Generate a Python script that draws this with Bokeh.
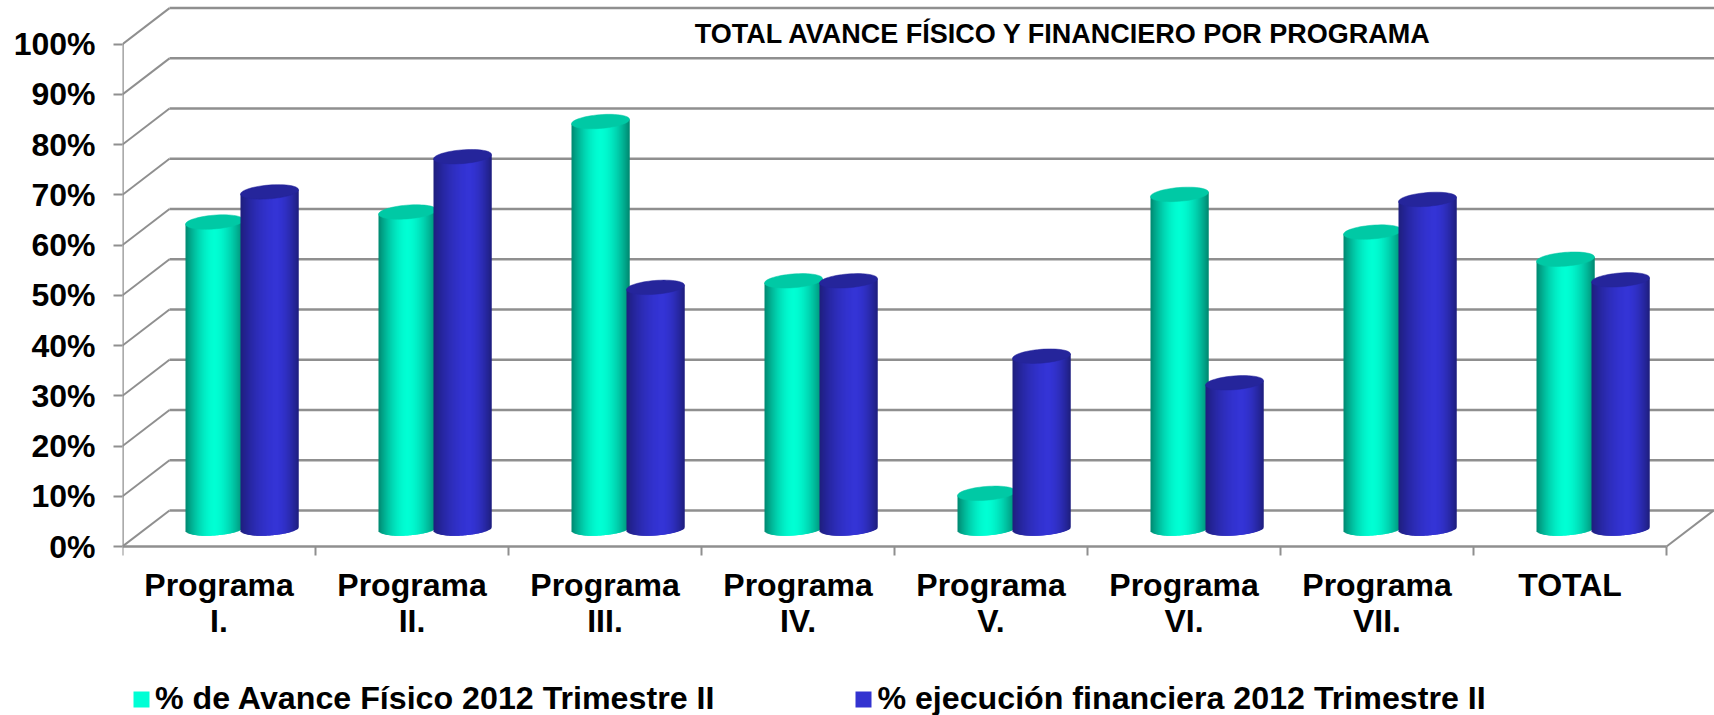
import numpy as np
from bokeh.embed import file_html
from bokeh.resources import INLINE
from bokeh.plotting import figure
from bokeh.models import (FixedTicker, Label, Legend, LegendItem, PrintfTickFormatter)

title_text = "TOTAL AVANCE FÍSICO Y FINANCIERO POR PROGRAMA"
categories = ["Programa\nI.", "Programa\nII.", "Programa\nIII.", "Programa\nIV.",
              "Programa\nV.", "Programa\nVI.", "Programa\nVII.", "TOTAL"]
fisico = [61, 63, 81, 49.3, 7, 66.5, 59, 53.6]
financiera = [67, 74, 48, 49.3, 34.3, 29, 65.5, 49.5]
series_names = ["% de Avance Físico 2012 Trimestre II", "% ejecución financiera 2012 Trimestre II"]
y_ticks = list(range(0, 101, 10))

W, H = 1714, 715
PX_X, PX_Y = 193.0, 5.024          # pixels per category / per percent point
LEFT, ZERO_Y = 122, 546
x_end = (W - LEFT) / PX_X
y_start, y_end = -(H - ZERO_Y) / PX_Y, ZERO_Y / PX_Y
FONT = "Liberation Sans"
GRID = "#8f8f8f"

p = figure(width=W, height=H, output_backend="svg", toolbar_location=None,
           x_range=(0, x_end), y_range=(y_start, y_end),
           min_border_left=LEFT, min_border_bottom=0, min_border_top=0, min_border_right=0,
           outline_line_color=None, background_fill_color="white", border_fill_color="white")
p.grid.visible = False

n = len(categories)
dx = 47.0 / PX_X
dy = 36.0 / PX_Y

# walls and floor
for v in y_ticks:
    p.line([0, dx], [v, v + dy], line_color=GRID, line_width=2)
    p.line([dx, x_end + 1], [v + dy, v + dy], line_color=GRID, line_width=2.5)
p.line([0, 0], [0, 100], line_color=GRID, line_width=2.5)
p.line([0, n], [0, 0], line_color=GRID, line_width=2.5)
p.line([n, n + dx], [0, dy], line_color=GRID, line_width=2)

# cylinders, drawn as overlapping strips so that no seams let the walls show through
CYL_W = 58 / PX_X
B = 6.9 / PX_Y
K = 2.2 / PX_Y
MID_Y = 0.5 * dy

def shade(u, center, dark, bright):
    t = abs(u - center) / (center if u < center else 1 - center)
    t = min(1.0, t) ** 1.7
    c = np.array(bright) * (1 - t) + np.array(dark) * t
    return "#%02x%02x%02x" % tuple(int(round(a)) for a in c)

def cylinder(left, v, dark, bright, top, center):
    px_left = round(left * PX_X)
    peak = v + MID_Y
    cx = (px_left + 29) / PX_X
    edges = (px_left + np.arange(59)) / PX_X
    l = edges[:-1]
    r = np.minimum(edges[1:] + 1.5 / PX_X, edges[-1])
    mids = (edges[:-1] + edges[1:]) / 2
    cos_t = (mids - cx) / (CYL_W / 2)
    sin_t = np.sqrt(np.clip(1 - cos_t ** 2, 0, 1))
    bottoms = MID_Y - B * sin_t + K * cos_t
    tops = peak + K * cos_t
    cols = [shade((k + 0.5) / 58, center, dark, bright) for k in range(58)]
    p.quad(left=l, right=r, bottom=bottoms, top=tops, fill_color=cols, fill_alpha=1.0, line_color=None)
    ang = np.linspace(0, 2 * np.pi, 60)
    p.patch(cx + CYL_W / 2 * np.cos(ang), peak + B * np.sin(ang) + K * np.cos(ang),
            fill_color=top, fill_alpha=1.0, line_color=top, line_width=0.5)

for i in range(n):
    cylinder(i + 0.324, fisico[i], (0, 135, 112), (0, 255, 212), "#00c9a5", 0.50)
    cylinder(i + 0.611, financiera[i], (30, 30, 125), (52, 52, 214), "#25259b", 0.62)

# axes
p.yaxis.ticker = FixedTicker(ticks=y_ticks)
p.yaxis.formatter = PrintfTickFormatter(format="%d%%")
p.yaxis.axis_line_color = None
p.yaxis.major_tick_line_color = GRID
p.yaxis.major_tick_line_width = 2
p.yaxis.major_tick_out = 9
p.yaxis.major_tick_in = 0
p.yaxis.minor_tick_line_color = None
p.yaxis.major_label_standoff = 18
p.yaxis.major_label_text_font = FONT
p.yaxis.major_label_text_font_style = "bold"
p.yaxis.major_label_text_font_size = "32px"
p.yaxis.major_label_text_color = "black"

centers = [i + 0.5 for i in range(n)]
p.xaxis.fixed_location = 0
p.xaxis.ticker = FixedTicker(ticks=centers, minor_ticks=list(range(n + 1)))
p.xaxis.major_label_overrides = dict(zip(centers, categories))
p.xaxis.axis_line_color = None
p.xaxis.major_tick_line_color = None
p.xaxis.major_tick_out = 0
p.xaxis.major_tick_in = 0
p.xaxis.minor_tick_line_color = GRID
p.xaxis.minor_tick_line_width = 2
p.xaxis.minor_tick_out = 9
p.xaxis.minor_tick_in = 0
p.xaxis.major_label_standoff = 11
p.xaxis.major_label_text_font = FONT
p.xaxis.major_label_text_font_style = "bold"
p.xaxis.major_label_text_font_size = "32px"
p.xaxis.major_label_text_color = "black"
p.xaxis.major_label_text_line_height = 1.0

# title
p.add_layout(Label(x=(1063 - LEFT) / PX_X, y=(ZERO_Y - 33) / PX_Y,
                   text=title_text, text_font=FONT, text_font_style="bold",
                   text_font_size="27px", text_color="black",
                   text_align="center", text_baseline="middle"))

# legend
nan = float("nan")
r1 = p.vbar(x=[nan], top=[nan], bottom=[nan], width=0, fill_color="#00ffd5", line_color=None)
r2 = p.vbar(x=[nan], top=[nan], bottom=[nan], width=0, fill_color="#3333d0", line_color=None)
legend = Legend(items=[LegendItem(label=series_names[0], renderers=[r1]),
                       LegendItem(label=series_names[1], renderers=[r2])],
                orientation="horizontal", location=(131 - LEFT, -2),
                glyph_width=20, glyph_height=20, label_standoff=4, spacing=139,
                padding=0, margin=0, border_line_color=None, background_fill_alpha=0,
                label_text_font=FONT, label_text_font_style="bold",
                label_text_font_size="32.2px", label_text_color="black",
                label_height=20)
p.add_layout(legend, "center")

open("out.html", "w").write(file_html(p, INLINE))
